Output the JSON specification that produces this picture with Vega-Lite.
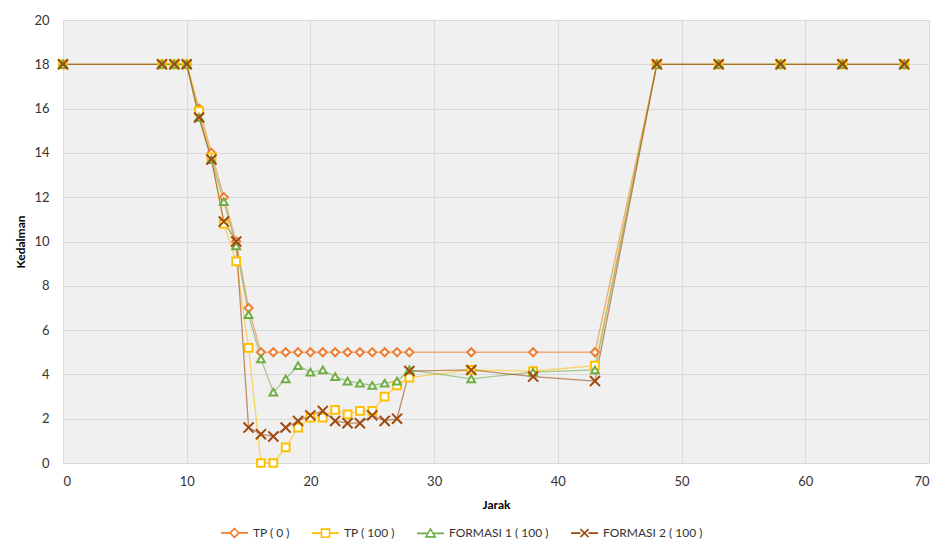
{
  "$schema": "https://vega.github.io/schema/vega-lite/v6.json",
  "width": 866,
  "height": 443,
  "autosize": "none",
  "padding": {"left": 63, "top": 20, "right": 11, "bottom": 85},
  "background": "white",
  "config": {
    "view": {"fill": "#f0f0f0", "stroke": "#d9d9d9", "strokeWidth": 1},
    "font": "Lato",
    "axis": {"labelFont": "Lato", "titleFont": "Lato", "labelColor": "#333333", "titleColor": "#000000", "labelFontSize": 13, "titleFontSize": 12, "gridColor": "#d9d9d9", "gridWidth": 1, "domain": false, "ticks": false}
  },
  "data": {"values": [
    {"series": "TP ( 0 )", "Jarak": 0, "Kedalman": 18},
    {"series": "TP ( 0 )", "Jarak": 8, "Kedalman": 18},
    {"series": "TP ( 0 )", "Jarak": 9, "Kedalman": 18},
    {"series": "TP ( 0 )", "Jarak": 10, "Kedalman": 18},
    {"series": "TP ( 0 )", "Jarak": 11, "Kedalman": 16},
    {"series": "TP ( 0 )", "Jarak": 12, "Kedalman": 14},
    {"series": "TP ( 0 )", "Jarak": 13, "Kedalman": 12},
    {"series": "TP ( 0 )", "Jarak": 14, "Kedalman": 10},
    {"series": "TP ( 0 )", "Jarak": 15, "Kedalman": 7},
    {"series": "TP ( 0 )", "Jarak": 16, "Kedalman": 5},
    {"series": "TP ( 0 )", "Jarak": 17, "Kedalman": 5},
    {"series": "TP ( 0 )", "Jarak": 18, "Kedalman": 5},
    {"series": "TP ( 0 )", "Jarak": 19, "Kedalman": 5},
    {"series": "TP ( 0 )", "Jarak": 20, "Kedalman": 5},
    {"series": "TP ( 0 )", "Jarak": 21, "Kedalman": 5},
    {"series": "TP ( 0 )", "Jarak": 22, "Kedalman": 5},
    {"series": "TP ( 0 )", "Jarak": 23, "Kedalman": 5},
    {"series": "TP ( 0 )", "Jarak": 24, "Kedalman": 5},
    {"series": "TP ( 0 )", "Jarak": 25, "Kedalman": 5},
    {"series": "TP ( 0 )", "Jarak": 26, "Kedalman": 5},
    {"series": "TP ( 0 )", "Jarak": 27, "Kedalman": 5},
    {"series": "TP ( 0 )", "Jarak": 28, "Kedalman": 5},
    {"series": "TP ( 0 )", "Jarak": 33, "Kedalman": 5},
    {"series": "TP ( 0 )", "Jarak": 38, "Kedalman": 5},
    {"series": "TP ( 0 )", "Jarak": 43, "Kedalman": 5},
    {"series": "TP ( 0 )", "Jarak": 48, "Kedalman": 18},
    {"series": "TP ( 0 )", "Jarak": 53, "Kedalman": 18},
    {"series": "TP ( 0 )", "Jarak": 58, "Kedalman": 18},
    {"series": "TP ( 0 )", "Jarak": 63, "Kedalman": 18},
    {"series": "TP ( 0 )", "Jarak": 68, "Kedalman": 18},
    {"series": "TP ( 100 )", "Jarak": 0, "Kedalman": 18},
    {"series": "TP ( 100 )", "Jarak": 8, "Kedalman": 18},
    {"series": "TP ( 100 )", "Jarak": 9, "Kedalman": 18},
    {"series": "TP ( 100 )", "Jarak": 10, "Kedalman": 18},
    {"series": "TP ( 100 )", "Jarak": 11, "Kedalman": 15.9},
    {"series": "TP ( 100 )", "Jarak": 12, "Kedalman": 13.8},
    {"series": "TP ( 100 )", "Jarak": 13, "Kedalman": 10.8},
    {"series": "TP ( 100 )", "Jarak": 14, "Kedalman": 9.1},
    {"series": "TP ( 100 )", "Jarak": 15, "Kedalman": 5.2},
    {"series": "TP ( 100 )", "Jarak": 16, "Kedalman": 0},
    {"series": "TP ( 100 )", "Jarak": 17, "Kedalman": 0},
    {"series": "TP ( 100 )", "Jarak": 18, "Kedalman": 0.7},
    {"series": "TP ( 100 )", "Jarak": 19, "Kedalman": 1.6},
    {"series": "TP ( 100 )", "Jarak": 20, "Kedalman": 2.05},
    {"series": "TP ( 100 )", "Jarak": 21, "Kedalman": 2.05},
    {"series": "TP ( 100 )", "Jarak": 22, "Kedalman": 2.4},
    {"series": "TP ( 100 )", "Jarak": 23, "Kedalman": 2.2},
    {"series": "TP ( 100 )", "Jarak": 24, "Kedalman": 2.35},
    {"series": "TP ( 100 )", "Jarak": 25, "Kedalman": 2.35},
    {"series": "TP ( 100 )", "Jarak": 26, "Kedalman": 3.0},
    {"series": "TP ( 100 )", "Jarak": 27, "Kedalman": 3.5},
    {"series": "TP ( 100 )", "Jarak": 28, "Kedalman": 3.85},
    {"series": "TP ( 100 )", "Jarak": 33, "Kedalman": 4.2},
    {"series": "TP ( 100 )", "Jarak": 38, "Kedalman": 4.15},
    {"series": "TP ( 100 )", "Jarak": 43, "Kedalman": 4.4},
    {"series": "TP ( 100 )", "Jarak": 48, "Kedalman": 18},
    {"series": "TP ( 100 )", "Jarak": 53, "Kedalman": 18},
    {"series": "TP ( 100 )", "Jarak": 58, "Kedalman": 18},
    {"series": "TP ( 100 )", "Jarak": 63, "Kedalman": 18},
    {"series": "TP ( 100 )", "Jarak": 68, "Kedalman": 18},
    {"series": "FORMASI 1 ( 100 )", "Jarak": 0, "Kedalman": 18},
    {"series": "FORMASI 1 ( 100 )", "Jarak": 8, "Kedalman": 18},
    {"series": "FORMASI 1 ( 100 )", "Jarak": 9, "Kedalman": 18},
    {"series": "FORMASI 1 ( 100 )", "Jarak": 10, "Kedalman": 18},
    {"series": "FORMASI 1 ( 100 )", "Jarak": 11, "Kedalman": 15.6},
    {"series": "FORMASI 1 ( 100 )", "Jarak": 12, "Kedalman": 13.7},
    {"series": "FORMASI 1 ( 100 )", "Jarak": 13, "Kedalman": 11.8},
    {"series": "FORMASI 1 ( 100 )", "Jarak": 14, "Kedalman": 9.8},
    {"series": "FORMASI 1 ( 100 )", "Jarak": 15, "Kedalman": 6.7},
    {"series": "FORMASI 1 ( 100 )", "Jarak": 16, "Kedalman": 4.7},
    {"series": "FORMASI 1 ( 100 )", "Jarak": 17, "Kedalman": 3.2},
    {"series": "FORMASI 1 ( 100 )", "Jarak": 18, "Kedalman": 3.8},
    {"series": "FORMASI 1 ( 100 )", "Jarak": 19, "Kedalman": 4.4},
    {"series": "FORMASI 1 ( 100 )", "Jarak": 20, "Kedalman": 4.1},
    {"series": "FORMASI 1 ( 100 )", "Jarak": 21, "Kedalman": 4.2},
    {"series": "FORMASI 1 ( 100 )", "Jarak": 22, "Kedalman": 3.9},
    {"series": "FORMASI 1 ( 100 )", "Jarak": 23, "Kedalman": 3.7},
    {"series": "FORMASI 1 ( 100 )", "Jarak": 24, "Kedalman": 3.6},
    {"series": "FORMASI 1 ( 100 )", "Jarak": 25, "Kedalman": 3.5},
    {"series": "FORMASI 1 ( 100 )", "Jarak": 26, "Kedalman": 3.6},
    {"series": "FORMASI 1 ( 100 )", "Jarak": 27, "Kedalman": 3.7},
    {"series": "FORMASI 1 ( 100 )", "Jarak": 28, "Kedalman": 4.2},
    {"series": "FORMASI 1 ( 100 )", "Jarak": 33, "Kedalman": 3.8},
    {"series": "FORMASI 1 ( 100 )", "Jarak": 38, "Kedalman": 4.1},
    {"series": "FORMASI 1 ( 100 )", "Jarak": 43, "Kedalman": 4.2},
    {"series": "FORMASI 1 ( 100 )", "Jarak": 48, "Kedalman": 18},
    {"series": "FORMASI 1 ( 100 )", "Jarak": 53, "Kedalman": 18},
    {"series": "FORMASI 1 ( 100 )", "Jarak": 58, "Kedalman": 18},
    {"series": "FORMASI 1 ( 100 )", "Jarak": 63, "Kedalman": 18},
    {"series": "FORMASI 1 ( 100 )", "Jarak": 68, "Kedalman": 18},
    {"series": "FORMASI 2 ( 100 )", "Jarak": 0, "Kedalman": 18},
    {"series": "FORMASI 2 ( 100 )", "Jarak": 8, "Kedalman": 18},
    {"series": "FORMASI 2 ( 100 )", "Jarak": 9, "Kedalman": 18},
    {"series": "FORMASI 2 ( 100 )", "Jarak": 10, "Kedalman": 18},
    {"series": "FORMASI 2 ( 100 )", "Jarak": 11, "Kedalman": 15.6},
    {"series": "FORMASI 2 ( 100 )", "Jarak": 12, "Kedalman": 13.7},
    {"series": "FORMASI 2 ( 100 )", "Jarak": 13, "Kedalman": 10.9},
    {"series": "FORMASI 2 ( 100 )", "Jarak": 14, "Kedalman": 10},
    {"series": "FORMASI 2 ( 100 )", "Jarak": 15, "Kedalman": 1.6},
    {"series": "FORMASI 2 ( 100 )", "Jarak": 16, "Kedalman": 1.3},
    {"series": "FORMASI 2 ( 100 )", "Jarak": 17, "Kedalman": 1.2},
    {"series": "FORMASI 2 ( 100 )", "Jarak": 18, "Kedalman": 1.6},
    {"series": "FORMASI 2 ( 100 )", "Jarak": 19, "Kedalman": 1.9},
    {"series": "FORMASI 2 ( 100 )", "Jarak": 20, "Kedalman": 2.15},
    {"series": "FORMASI 2 ( 100 )", "Jarak": 21, "Kedalman": 2.35},
    {"series": "FORMASI 2 ( 100 )", "Jarak": 22, "Kedalman": 1.9},
    {"series": "FORMASI 2 ( 100 )", "Jarak": 23, "Kedalman": 1.8},
    {"series": "FORMASI 2 ( 100 )", "Jarak": 24, "Kedalman": 1.8},
    {"series": "FORMASI 2 ( 100 )", "Jarak": 25, "Kedalman": 2.15},
    {"series": "FORMASI 2 ( 100 )", "Jarak": 26, "Kedalman": 1.9},
    {"series": "FORMASI 2 ( 100 )", "Jarak": 27, "Kedalman": 2.0},
    {"series": "FORMASI 2 ( 100 )", "Jarak": 28, "Kedalman": 4.15},
    {"series": "FORMASI 2 ( 100 )", "Jarak": 33, "Kedalman": 4.2},
    {"series": "FORMASI 2 ( 100 )", "Jarak": 38, "Kedalman": 3.9},
    {"series": "FORMASI 2 ( 100 )", "Jarak": 43, "Kedalman": 3.7},
    {"series": "FORMASI 2 ( 100 )", "Jarak": 48, "Kedalman": 18},
    {"series": "FORMASI 2 ( 100 )", "Jarak": 53, "Kedalman": 18},
    {"series": "FORMASI 2 ( 100 )", "Jarak": 58, "Kedalman": 18},
    {"series": "FORMASI 2 ( 100 )", "Jarak": 63, "Kedalman": 18},
    {"series": "FORMASI 2 ( 100 )", "Jarak": 68, "Kedalman": 18}
  ]},
  "encoding": {
    "x": {"field": "Jarak", "type": "quantitative", "scale": {"domain": [0, 70], "nice": false, "zero": true}, "axis": {"values": [0, 10, 20, 30, 40, 50, 60, 70], "title": "Jarak", "titleFontWeight": "bold", "labelPadding": 12, "titlePadding": 11}},
    "y": {"field": "Kedalman", "type": "quantitative", "scale": {"domain": [0, 20], "nice": false}, "axis": {"values": [0, 2, 4, 6, 8, 10, 12, 14, 16, 18, 20], "title": "Kedalman", "titleFontWeight": "bold", "labelPadding": 14, "titlePadding": 6}},
    "stroke": {
      "field": "series", "type": "nominal",
      "sort": ["TP ( 0 )", "TP ( 100 )", "FORMASI 1 ( 100 )", "FORMASI 2 ( 100 )"],
      "scale": {"domain": ["TP ( 0 )", "TP ( 100 )", "FORMASI 1 ( 100 )", "FORMASI 2 ( 100 )"], "range": ["#ED7D31", "#FFC000", "#70AD47", "#9E480E"]},
      "legend": {
        "orient": "none", "legendX": 157, "legendY": 498, "direction": "horizontal", "title": null,
        "labelFont": "Lato", "labelFontSize": 12, "labelColor": "#333333", "labelOffset": 4,
        "columnPadding": 18, "symbolSize": 729, "symbolStrokeWidth": 1.6, "symbolFillColor": "white", "symbolOpacity": 1
      }
    }
  },
  "layer": [
    {
      "mark": {"type": "line", "strokeWidth": 1.3, "opacity": 0.6},
      "encoding": {"detail": {"field": "series"}}
    },
    {
      "transform": [{"filter": "datum.series === 'TP ( 0 )'"}],
      "mark": {"type": "point", "shape": "diamond", "filled": false, "fill": "white", "fillOpacity": 1, "strokeWidth": 2, "size": 65, "opacity": 1}
    },
    {
      "transform": [{"filter": "datum.series === 'TP ( 100 )'"}],
      "mark": {"type": "point", "shape": "square", "filled": false, "fill": "white", "fillOpacity": 1, "strokeWidth": 2, "size": 60, "opacity": 1}
    },
    {
      "transform": [{"filter": "datum.series === 'FORMASI 1 ( 100 )'"}],
      "mark": {"type": "point", "shape": "triangle-up", "filled": false, "fill": "white", "fillOpacity": 1, "strokeWidth": 2, "size": 60, "opacity": 1}
    },
    {
      "transform": [{"filter": "datum.series === 'FORMASI 2 ( 100 )'"}],
      "mark": {"type": "point", "shape": "M-1.25,-1.25L1.25,1.25M-1.25,1.25L1.25,-1.25", "filled": false, "fill": "white", "fillOpacity": 1, "strokeWidth": 2, "size": 65, "opacity": 1}
    },
    {
      "transform": [{"filter": "datum.Jarak < 0"}],
      "mark": {"type": "point", "filled": false, "fill": "white", "fillOpacity": 1, "strokeWidth": 1.6, "opacity": 1},
      "encoding": {
        "shape": {"field": "series", "type": "nominal", "scale": {"domain": ["TP ( 0 )", "TP ( 100 )", "FORMASI 1 ( 100 )", "FORMASI 2 ( 100 )"], "range": ["M-1,0L-0.33,0M0.33,0L1,0M0,-0.33L0.33,0L0,0.33L-0.33,0Z", "M-1,0L-0.3,0M0.3,0L1,0M-0.3,-0.3L0.3,-0.3L0.3,0.3L-0.3,0.3Z", "M-1,0L-0.22,0M0.22,0L1,0M0,-0.33L0.34,0.26L-0.34,0.26Z", "M-1,0L-0.3,0M0.3,0L1,0M-0.3,-0.3L0.3,0.3M-0.3,0.3L0.3,-0.3"]}}
      }
    }
  ]
}
